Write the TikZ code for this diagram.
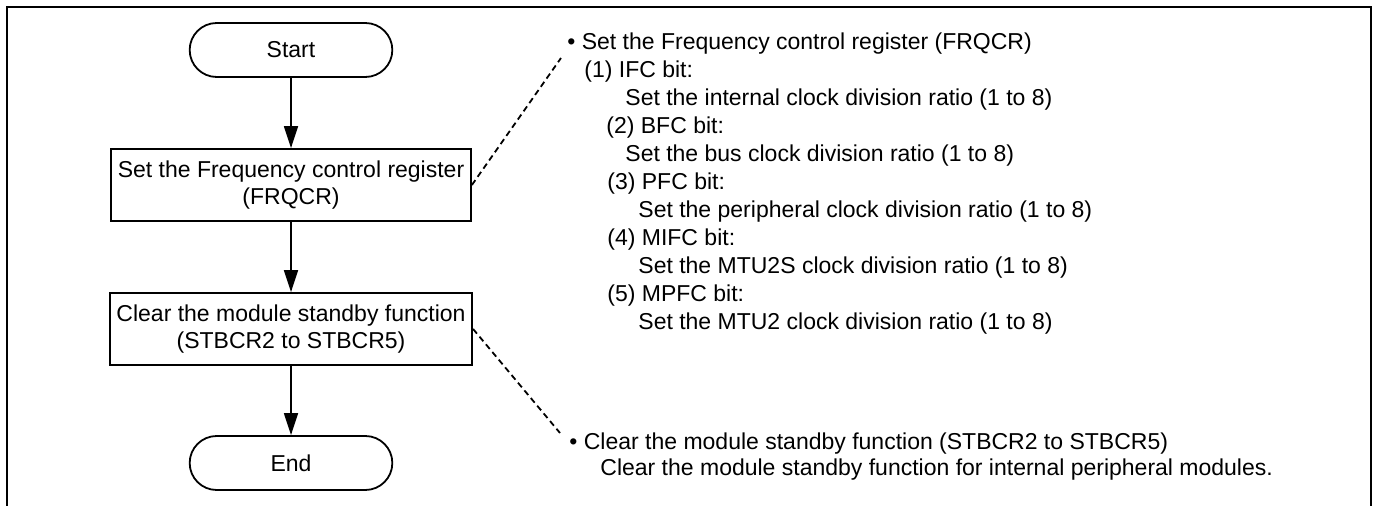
\documentclass[tikz,border=0pt]{standalone}
\usepackage{fontspec}
\setmainfont{Liberation Sans}
\usetikzlibrary{arrows.meta,shapes.misc}

\begin{document}
\begin{tikzpicture}[x=0.5pt,y=-0.5pt,
  font=\fontsize{11.5}{13.5}\selectfont,
  term/.style={draw,line width=0.9pt,rounded rectangle,minimum width=108pt,minimum height=27pt},
  proc/.style={draw,line width=0.9pt,rectangle,minimum width=180pt,minimum height=36pt,align=center},
  flow/.style={-{Triangle[length=11pt,width=7pt]},line width=0.8pt},
  note/.style={dash pattern=on 3pt off 2pt,line width=0.9pt},
  memo/.style={anchor=base west,inner sep=0pt}]
  \useasboundingbox (0,0) rectangle (1374,506);
  % outer frame, open at the bottom
  \draw[line width=1.2pt] (7,506) -- (7,7) -- (1371,7) -- (1371,506);
  % flow
  \node[term] (start) at (291,50) {Start};
  \node[proc] (frqcr) at (291,185) {Set the Frequency control register\\(FRQCR)};
  \node[proc] (stbcr) at (291,329) {Clear the module standby function\\(STBCR2 to STBCR5)};
  \node[term] (stop) at (291,463) {End};
  \draw[flow] (start) -- (frqcr);
  \draw[flow] (frqcr) -- (stbcr);
  \draw[flow] (stbcr) -- (stop);
  % notes on FRQCR
  \foreach \k/\dx/\txt in {
      0/567/{\textbullet\ Set the Frequency control register (FRQCR)},
      1/584/{(1) IFC bit:},
      2/625/{Set the internal clock division ratio (1 to 8)},
      3/606/{(2) BFC bit:},
      4/625/{Set the bus clock division ratio (1 to 8)},
      5/607/{(3) PFC bit:},
      6/638/{Set the peripheral clock division ratio (1 to 8)},
      7/607/{(4) MIFC bit:},
      8/638/{Set the MTU2S clock division ratio (1 to 8)},
      9/607/{(5) MPFC bit:},
      10/638/{Set the MTU2 clock division ratio (1 to 8)}}
    \node[memo] (frq\k) at (\dx,50+28*\k) {\txt};
  % notes on STBCR
  \node[memo] (stb0) at (569,450) {\textbullet\ Clear the module standby function (STBCR2 to STBCR5)};
  \node[memo] (stb1) at (600,476) {Clear the module standby function for internal peripheral modules.};
  \coordinate (frqtip) at (561,58);
  \coordinate (stbtip) at (560,433);
  \draw[note] (frqcr.east) -- (frqtip);
  \draw[note] (stbcr.east) -- (stbtip);
\end{tikzpicture}
\end{document}
